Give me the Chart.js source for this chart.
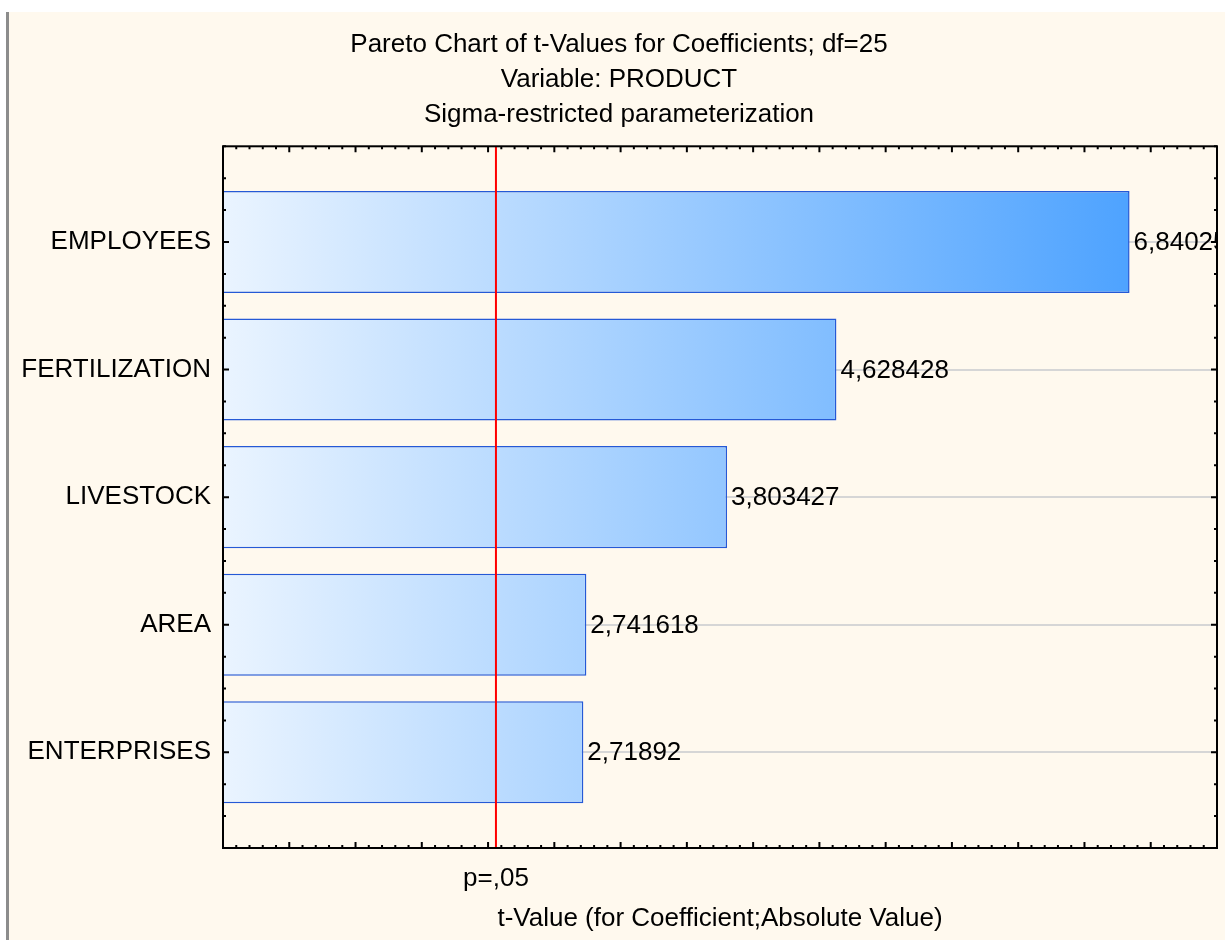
<!DOCTYPE html>
<html>
<head>
<meta charset="utf-8">
<script src="https://cdn.jsdelivr.net/npm/chart.js@4.4.1/dist/chart.umd.min.js"></script>
<style>
    body { margin: 0; background: #ffffff; }
    #frame {
        position: absolute; left: 6px; top: 12px;
        width: 1216px; height: 928px;
        border-left: 3px solid #8c8c8c;
        background: #FFF9EE;
    }
    canvas { display: block; }
</style>
</head>
<body>
<div id="frame"><canvas id="paretoChart" width="1216" height="928"></canvas></div>
<script>
// Pareto chart data
const effects = ['EMPLOYEES', 'FERTILIZATION', 'LIVESTOCK', 'AREA', 'ENTERPRISES'];
const tValues = [6.84025, 4.628428, 3.803427, 2.741618, 2.71892];
const criticalT = 2.0595; // t crit, p=.05, df=25
const criticalLabel = 'p=,05';
const titleLines = [
    'Pareto Chart of t-Values for Coefficients; df=25',
    'Variable: PRODUCT',
    'Sigma-restricted parameterization'
];
const axisTitle = 't-Value (for Coefficient;Absolute Value)';

const FONT = '"Liberation Sans", Arial, sans-serif';
const FONT_SIZE = 26;
Chart.defaults.font.family = FONT;
Chart.defaults.color = '#000000';

// Red critical line, value labels, inward ticks and plot frame
const paretoDecor = {
    id: 'paretoDecor',
    afterDatasetsDraw(chart) {
        const { ctx, chartArea: a, scales: { x, y } } = chart;
        ctx.save();

        // critical value line
        const cx = x.getPixelForValue(criticalT);
        ctx.strokeStyle = '#ff0000';
        ctx.lineWidth = 2;
        ctx.beginPath();
        ctx.moveTo(cx, a.top);
        ctx.lineTo(cx, a.bottom);
        ctx.stroke();

        // value labels (clipped to the plot like the original)
        ctx.save();
        ctx.beginPath();
        ctx.rect(a.left, a.top, a.right - a.left, a.bottom - a.top);
        ctx.clip();
        ctx.font = FONT_SIZE + 'px ' + FONT;
        ctx.fillStyle = '#000000';
        ctx.textBaseline = 'middle';
        ctx.textAlign = 'left';
        chart.getDatasetMeta(0).data.forEach((bar, i) => {
            ctx.fillText(String(tValues[i]).replace('.', ','), bar.x + 4, bar.y + 1);
        });
        ctx.restore();

        // p=,05 label under the axis
        ctx.font = FONT_SIZE + 'px ' + FONT;
        ctx.fillStyle = '#000000';
        ctx.textAlign = 'center';
        ctx.textBaseline = 'middle';
        ctx.fillText(criticalLabel, cx, a.bottom + 31);

        // inward ticks
        ctx.strokeStyle = '#000000';
        ctx.lineWidth = 2;
        ctx.beginPath();
        for (let k = 0; k <= 75; k++) {
            const px = x.getPixelForValue(k / 10);
            const len = k % 5 === 0 ? 6 : 3;
            ctx.moveTo(px, a.bottom); ctx.lineTo(px, a.bottom - len);
            ctx.moveTo(px, a.top); ctx.lineTo(px, a.top + len);
        }
        for (let k = -3; k <= 19; k++) {
            const py = y.getPixelForValue(k / 4);
            const len = k % 4 === 0 ? 6 : 3;
            ctx.moveTo(a.left, py); ctx.lineTo(a.left + len, py);
            ctx.moveTo(a.right, py); ctx.lineTo(a.right - len, py);
        }
        ctx.stroke();

        // frame
        ctx.strokeRect(a.left, a.top, a.right - a.left, a.bottom - a.top);
        ctx.restore();
    }
};

const ctx = document.getElementById('paretoChart').getContext('2d');
new Chart(ctx, {
    type: 'bar',
    data: {
        datasets: [{
            data: tValues.map((v, i) => ({ x: v, y: i })),
            backgroundColor(context) {
                const { ctx, chartArea } = context.chart;
                if (!chartArea) return '#9fcbff';
                const g = ctx.createLinearGradient(chartArea.left, 0, chartArea.right, 0);
                g.addColorStop(0, '#EAF4FF');
                g.addColorStop(1, '#3F9BFF');
                return g;
            },
            borderColor: '#2559D6',
            borderWidth: 1.5,
            barPercentage: 0.8,
            categoryPercentage: 1.0
        }]
    },
    options: {
        indexAxis: 'y',
        responsive: false,
        animation: false,
        layout: {
            padding: { left: 12, right: 8, top: 0, bottom: 0 }
        },
        scales: {
            x: {
                type: 'linear',
                min: 0,
                max: 7.5,
                offset: false,
                grid: { display: false },
                border: { display: false },
                ticks: { display: false },
                title: {
                    display: true,
                    text: axisTitle,
                    font: { size: FONT_SIZE },
                    padding: { top: 0, bottom: 6 }
                },
                afterFit(scale) {
                    scale.height = 92;
                }
            },
            y: {
                type: 'linear',
                reverse: true,
                offset: false,
                min: -0.75,
                max: 4.75,
                afterBuildTicks(scale) {
                    scale.ticks = effects.map((_, i) => ({ value: i }));
                },
                grid: {
                    color: '#d6d6d6',
                    lineWidth: 2,
                    offset: false,
                    drawTicks: false
                },
                border: { display: false },
                ticks: {
                    font: { size: FONT_SIZE },
                    padding: 12,
                    autoSkip: false,
                    callback: (v) => effects[v] ?? ''
                },
                afterFit(scale) {
                    scale.width = 202;
                }
            }
        },
        plugins: {
            legend: { display: false },
            tooltip: { enabled: false },
            title: {
                display: true,
                text: titleLines,
                color: '#000000',
                font: { size: FONT_SIZE, weight: 'normal', lineHeight: 1.35 },
                padding: { top: 15, bottom: 14 }
            }
        }
    },
    plugins: [paretoDecor]
});
</script>
</body>
</html>
